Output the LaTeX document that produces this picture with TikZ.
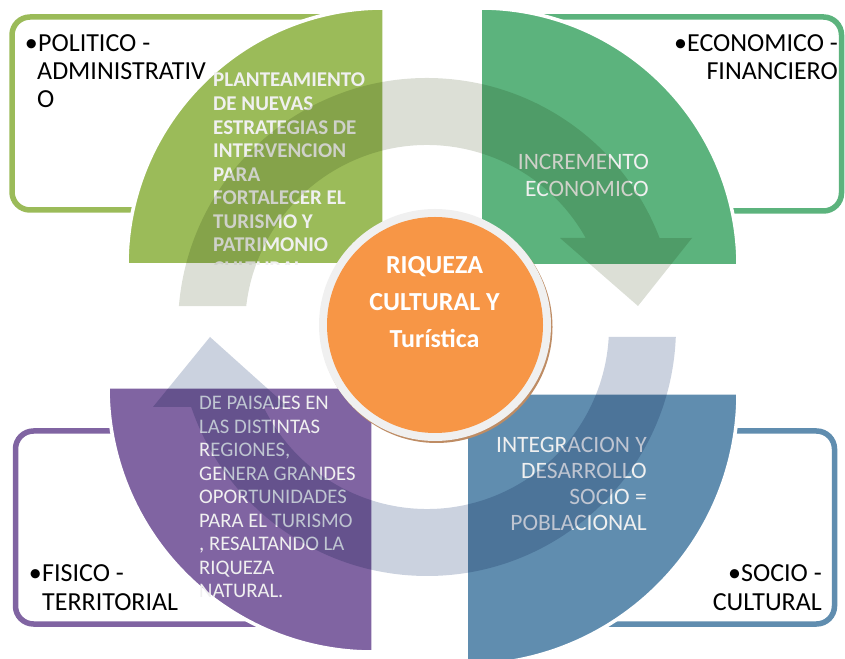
\documentclass[tikz,border=0pt]{standalone}
\usepackage{fontspec}
\setmainfont{Carlito}
\usetikzlibrary{calc}
\definecolor{cTL}{RGB}{155,187,89}
\definecolor{cTR}{RGB}{92,179,125}
\definecolor{cBL}{RGB}{128,100,162}
\definecolor{cBR}{RGB}{96,141,175}
\definecolor{ringA}{RGB}{220,223,214}
\definecolor{ringB}{RGB}{203,210,223}
\definecolor{orng}{RGB}{247,150,70}
\definecolor{ptext}{RGB}{240,240,240}
\definecolor{cborder}{RGB}{240,240,240}
\definecolor{cshadow}{RGB}{190,140,100}
\begin{document}
\begin{tikzpicture}[x=1pt,y=1pt,
  box/.style={draw, line width=5.5pt, rounded corners=18pt, fill=white},
  pie/.style={draw=white, line width=3.5pt},
  boxtxt/.style={inner sep=0pt, font=\fontsize{26}{28}\selectfont, text=black},
  pietxt/.style={inner sep=0pt, text=ptext},
  ctrtxt/.style={inner sep=0pt, text=white, font=\bfseries\fontsize{26}{30}\selectfont}]
\useasboundingbox (0,0) rectangle (845,658);
\coordinate (C) at (427,331);

% outer rounded boxes
\draw[box, draw=cTL] (12,448) rectangle (360,641);
\draw[box, draw=cTR] (493,447) rectangle (841.5,641);
\draw[box, draw=cBL] (15.5,34) rectangle (365,227);
\draw[box, draw=cBR] (485,34) rectangle (834.5,227);

% box texts
\node[boxtxt, anchor=base east] (bu1) at (38,606) {•};
\node[boxtxt, anchor=base west] (tla) at (38,606) {POLITICO -};
\node[boxtxt, anchor=base west] (tlb) at (37,578) {ADMINISTRATIV};
\node[boxtxt, anchor=base west] (tlc) at (37,550) {O};
\node[boxtxt, anchor=base east] (tra) at (838,606) {•ECONOMICO -};
\node[boxtxt, anchor=base east] (trb) at (838,578) {FINANCIERO};
\node[boxtxt, anchor=base east] (bu3) at (42,76) {•};
\node[boxtxt, anchor=base west] (bla) at (42,76) {FISICO -};
\node[boxtxt, anchor=base west] (blb) at (42,47) {TERRITORIAL};
\node[boxtxt, anchor=base east] (bra) at (822,76) {•SOCIO -};
\node[boxtxt, anchor=base east] (brb) at (822,47) {CULTURAL};

% pies
\filldraw[pie, fill=cTL] (384,393) -- (384,650) arc[start angle=90,end angle=180,radius=257] -- cycle;
\filldraw[pie, fill=cTR] (480,392) -- (480,650) arc[start angle=90,end angle=0,radius=258] -- cycle;
\filldraw[pie, fill=cBL] (373,271) -- (108,271) arc[start angle=180,end angle=270,radius=265] -- cycle;
\filldraw[pie, fill=cBR] (466,265) -- (738,265) arc[start angle=0,end angle=-90,radius=272] -- cycle;

% pie texts
\begin{scope}
\clip (384,393) -- (384,650) arc[start angle=90,end angle=180,radius=257] -- cycle;
\foreach \t [count=\i] in {PLANTEAMIENTO,DE NUEVAS,ESTRATEGIAS DE,INTERVENCION,PARA,FORTALECER EL,TURISMO Y,PATRIMONIO,CULTURAL}
  \node[pietxt, anchor=base west, font=\bfseries\fontsize{21}{23}\selectfont] (pa\i) at (213,{571-23.57*(\i-1)}) {\t};
\end{scope}
\foreach \t [count=\i] in {INCREMENTO,ECONOMICO}
  \node[pietxt, anchor=base east, font=\fontsize{23.5}{27}\selectfont] (pb\i) at (649,{488-27*(\i-1)}) {\t};
\foreach \t [count=\i] in {DE PAISAJES EN,LAS DISTINTAS,{REGIONES,},GENERA GRANDES,OPORTUNIDADES,PARA EL TURISMO,{, RESALTANDO LA},RIQUEZA,NATURAL.}
  \node[pietxt, anchor=base west, font=\fontsize{20.7}{23}\selectfont] (pc\i) at (199,{248-23.45*(\i-1)}) {\t};
\foreach \t [count=\i] in {INTEGRACION Y,DESARROLLO,SOCIO =,POBLACIONAL}
  \node[pietxt, anchor=base east, font=\fontsize{23.5}{26}\selectfont] (pd\i) at (647,{205-25.8*(\i-1)}) {\t};

% circular arrows
\begin{scope}[blend mode=multiply]
\fill[ringA] ($(C)+(175.2:249)$) arc[start angle=175.2,end angle=20.9,radius=249]
  -- (692,420) -- (638,352) -- (560,420)
  -- ($(C)+(29.3:182)$) arc[start angle=29.3,end angle=173.4,radius=182] -- cycle;
\fill[ringB] ($(C)+(-2.3:249)$) arc[start angle=-2.3,end angle=-161.3,radius=249]
  -- (153,251) -- (210,321) -- (288,251)
  -- ($(C)+(-153.9:182)$) arc[start angle=-153.9,end angle=-3.15,radius=182] -- cycle;
\end{scope}

% central circle
\fill[cshadow] (436.5,331) circle (116);
\fill[cborder] (435,333) circle (116);
\node[circle, fill=orng, minimum size=216pt, inner sep=0pt] (ctr) at (435,333) {};
\node[ctrtxt, anchor=base] (ca) at (434.5,384) {RIQUEZA};
\node[ctrtxt, anchor=base] (cb) at (434.5,347) {CULTURAL Y};
\node[ctrtxt, anchor=base] (cc) at (434.5,310) {Turística};
\end{tikzpicture}
\end{document}
